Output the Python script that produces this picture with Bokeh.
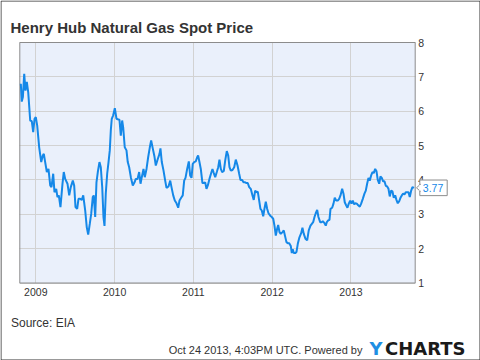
from bokeh.plotting import figure
from bokeh.models import Range1d, FixedTicker, Label, BoxAnnotation, PolyAnnotation
from bokeh.embed import file_html
from bokeh.resources import INLINE

# ---- data (weekly Henry Hub spot price) ----
year_frac = [
    2008.810, 2008.822, 2008.836, 2008.853, 2008.869, 2008.886, 2008.904, 2008.929, 2008.949, 2008.967,
    2008.984, 2009.000, 2009.018, 2009.043, 2009.069, 2009.089, 2009.102, 2009.119, 2009.140, 2009.161,
    2009.183, 2009.199, 2009.221, 2009.237, 2009.259, 2009.275, 2009.292, 2009.313, 2009.339, 2009.355,
    2009.373, 2009.402, 2009.424, 2009.444, 2009.470, 2009.487, 2009.504, 2009.525, 2009.542, 2009.563,
    2009.584, 2009.602, 2009.627, 2009.647, 2009.665,
    2009.685, 2009.703, 2009.723, 2009.736, 2009.754, 2009.770, 2009.787, 2009.808, 2009.825, 2009.843,
    2009.859, 2009.872, 2009.888, 2009.906, 2009.923, 2009.939, 2009.952, 2009.964, 2009.982, 2010.003,
    2010.024, 2010.049, 2010.062, 2010.079, 2010.096, 2010.109, 2010.129, 2010.151, 2010.167, 2010.185,
    2010.206, 2010.231, 2010.253, 2010.269, 2010.291, 2010.312, 2010.329, 2010.345, 2010.367, 2010.383,
    2010.405, 2010.426, 2010.447, 2010.464, 2010.485, 2010.506, 2010.523,
    2010.548, 2010.570, 2010.582, 2010.599, 2010.621, 2010.642, 2010.659, 2010.684, 2010.706, 2010.722,
    2010.744, 2010.764, 2010.786, 2010.807, 2010.824, 2010.845, 2010.865, 2010.883, 2010.900, 2010.921,
    2010.942, 2010.959, 2010.976, 2010.992, 2011.010, 2011.030, 2011.048, 2011.060, 2011.077, 2011.094,
    2011.115, 2011.132, 2011.150, 2011.166, 2011.183, 2011.204, 2011.226, 2011.242, 2011.259, 2011.277,
    2011.297, 2011.315, 2011.331, 2011.348, 2011.365,
    2011.386, 2011.404, 2011.424, 2011.442, 2011.458, 2011.475, 2011.496, 2011.518, 2011.538, 2011.560,
    2011.581, 2011.598, 2011.619, 2011.636, 2011.657, 2011.674, 2011.690, 2011.708, 2011.728, 2011.750,
    2011.766, 2011.784, 2011.804, 2011.817, 2011.835, 2011.851, 2011.868, 2011.886, 2011.902, 2011.919,
    2011.936, 2011.953, 2011.975, 2011.995, 2012.013, 2012.029, 2012.046, 2012.063, 2012.076, 2012.093,
    2012.109, 2012.131, 2012.147, 2012.165, 2012.181, 2012.198, 2012.216, 2012.236, 2012.249,
    2012.261, 2012.274, 2012.292, 2012.308, 2012.325, 2012.346, 2012.368, 2012.384, 2012.401, 2012.422,
    2012.444, 2012.464, 2012.486, 2012.503, 2012.520, 2012.537, 2012.553, 2012.571, 2012.587, 2012.609,
    2012.626, 2012.642, 2012.664, 2012.680, 2012.693, 2012.711, 2012.727, 2012.740, 2012.761, 2012.778,
    2012.794, 2012.812, 2012.832, 2012.850, 2012.867, 2012.888, 2012.905, 2012.921, 2012.939, 2012.955,
    2012.972, 2012.990, 2013.006, 2013.023, 2013.041, 2013.057, 2013.074, 2013.092, 2013.112,
    2013.129, 2013.150, 2013.171, 2013.188, 2013.205, 2013.222, 2013.238, 2013.256, 2013.273, 2013.289,
    2013.307, 2013.324, 2013.340, 2013.358, 2013.374, 2013.391, 2013.408, 2013.425, 2013.442, 2013.459,
    2013.476, 2013.492, 2013.510, 2013.526, 2013.543, 2013.561, 2013.577, 2013.594, 2013.612, 2013.628,
    2013.645, 2013.662, 2013.679, 2013.695, 2013.713, 2013.730, 2013.746, 2013.764, 2013.780, 2013.800,
]
price = [
    6.80, 6.28, 6.41, 7.09, 6.60, 6.85, 6.55, 5.73, 5.71, 5.39,
    5.78, 5.83, 5.58, 4.95, 4.52, 4.71, 4.76, 4.52, 4.23, 4.32,
    3.84, 3.79, 4.18, 3.64, 3.74, 3.50, 3.55, 3.21, 3.89, 4.23,
    4.03, 3.89, 3.55, 3.79, 3.98, 3.84, 3.21, 3.16, 3.45, 3.45,
    3.42, 3.55, 3.11, 2.62, 2.41,
    2.72, 3.01, 3.50, 3.55, 2.92, 3.93, 4.23, 4.52, 4.37, 3.79,
    2.92, 2.66, 3.60, 4.18, 4.52, 4.86, 5.44, 5.78, 5.88, 6.09,
    5.78, 5.76, 5.75, 5.29, 5.73, 5.53, 4.95, 4.86, 4.52, 4.37,
    4.08, 3.84, 3.93, 4.03, 4.03, 4.23, 3.89, 4.08, 4.32, 4.08,
    4.32, 4.66, 4.95, 5.15, 4.91, 4.68, 4.42,
    4.61, 4.76, 4.92, 4.52, 4.27, 3.98, 3.77, 3.81, 3.98, 3.79,
    3.55, 3.40, 3.32, 3.19, 3.40, 3.48, 3.55, 3.98, 4.06, 4.32,
    4.54, 4.13, 4.06, 4.47, 4.52, 4.54, 4.66, 4.71, 4.52, 4.32,
    3.91, 3.91, 3.93, 3.74, 3.84, 4.03, 4.20, 4.32, 4.20, 4.08,
    4.23, 4.37, 4.59, 4.32, 4.23,
    4.26, 4.57, 4.84, 4.71, 4.37, 4.27, 4.29, 4.37, 4.59, 4.42,
    4.18, 4.00, 4.00, 3.93, 3.93, 3.91, 3.91, 3.79, 3.74, 3.55,
    3.42, 3.69, 3.64, 3.66, 3.40, 3.16, 3.11, 2.94, 3.16, 3.37,
    3.16, 3.03, 2.96, 2.92, 2.87, 2.67, 2.38, 2.58, 2.69, 2.48,
    2.43, 2.48, 2.53, 2.35, 2.19, 2.16, 2.16, 2.08, 1.87,
    1.98, 1.87, 1.87, 1.90, 2.14, 2.33, 2.45, 2.61, 2.43, 2.29,
    2.24, 2.53, 2.67, 2.72, 2.77, 2.92, 3.03, 3.13, 2.92, 2.77,
    2.77, 2.80, 2.74, 2.67, 2.77, 2.82, 2.84, 3.16, 3.19, 3.31,
    3.48, 3.40, 3.40, 3.45, 3.55, 3.74, 3.60, 3.35, 3.26, 3.19,
    3.31, 3.40, 3.31, 3.40, 3.29, 3.32, 3.31, 3.26, 3.22,
    3.31, 3.45, 3.60, 3.69, 3.89, 4.06, 3.98, 4.13, 4.23, 4.20,
    4.32, 4.25, 4.00, 3.89, 4.10, 4.06, 3.96, 3.96, 3.83, 3.81,
    3.74, 3.52, 3.69, 3.67, 3.48, 3.55, 3.42, 3.32, 3.38, 3.48,
    3.55, 3.60, 3.58, 3.64, 3.64, 3.64, 3.50, 3.69, 3.79, 3.77,
]
year_ticks = [2009, 2010, 2011, 2012, 2013]
price_ticks = [1, 2, 3, 4, 5, 6, 7, 8]
x_lo, x_hi = 2008.797, 2013.815      # visible time span of the chart area
y_lo, y_hi = 1, 8                    # visible price span

title_text = "Henry Hub Natural Gas Spot Price"
source_text = "Source: EIA"
stamp_text = "Oct 24 2013, 4:03PM UTC.  Powered by"

FONT = "Liberation Sans"
LINE_BLUE = "#1588e8"
TEXT = "#333333"
EDGE = "#8c8c8c"

# ---- layout: the frame fills the whole canvas, the chart area sits inside it ----
W, H = 480, 360
AREA_L, AREA_R = 19.3, 414.7
AREA_T, AREA_B = 42.0, 282.5
kx = (x_hi - x_lo) / (AREA_R - AREA_L)
ky = (y_hi - y_lo) / (AREA_B - AREA_T)

p = figure(width=W, height=H, output_backend="svg", toolbar_location=None,
           x_range=Range1d(x_lo - AREA_L * kx, x_hi + (W - AREA_R) * kx),
           y_range=Range1d(y_lo - (H - AREA_B) * ky, y_hi + AREA_T * ky),
           y_axis_location="right",
           min_border_left=0, min_border_right=0, min_border_top=0, min_border_bottom=0)

p.background_fill_color = "white"
p.border_fill_color = "white"
p.outline_line_color = None

# chart area fill (below the grid) and outline (above the grid)
area_fill = BoxAnnotation(left=x_lo, right=x_hi, bottom=y_lo, top=y_hi,
                          fill_color="#eaf0fb", fill_alpha=1.0, line_alpha=0,
                          level="underlay")
area_line = BoxAnnotation(left=x_lo, right=x_hi, bottom=y_lo, top=y_hi,
                          fill_alpha=0, line_color=EDGE, line_alpha=1.0, line_width=1,
                          level="underlay")
p.xgrid.ticker = FixedTicker(ticks=year_ticks)
p.ygrid.ticker = FixedTicker(ticks=price_ticks)
p.grid.grid_line_color = "#d2d2d2"
p.grid.grid_line_width = 1
gx, gy = p.xgrid[0], p.ygrid[0]
if "cross_bounds" in gx.properties():
    gx.cross_bounds = (y_lo, y_hi)
    gy.cross_bounds = (x_lo, x_hi)
    p.center = [area_fill] + list(p.center) + [area_line]
else:
    p.grid.visible = False
    p.center = [area_fill] + list(p.center) + [area_line]
    p.segment(x0=year_ticks, y0=y_lo, x1=year_ticks, y1=y_hi,
              line_color="#d2d2d2", line_width=1)
    p.segment(x0=x_lo, y0=price_ticks, x1=x_hi, y1=price_ticks,
              line_color="#d2d2d2", line_width=1)

for ax in (p.xaxis[0], p.yaxis[0]):
    ax.axis_line_color = None
    ax.major_tick_line_color = None
    ax.minor_tick_line_color = None
    ax.major_tick_in = 0
    ax.major_tick_out = 0
    ax.minor_tick_in = 0
    ax.minor_tick_out = 0
    ax.major_label_text_font = FONT
    ax.major_label_text_font_size = "10.5px"
    ax.major_label_text_color = TEXT

p.xaxis.ticker = FixedTicker(ticks=year_ticks)
p.xaxis.major_label_overrides = {t: str(t) for t in year_ticks}
p.xaxis.major_label_standoff = 5
p.xaxis.fixed_location = y_lo
p.yaxis.ticker = FixedTicker(ticks=price_ticks)
p.yaxis.major_label_overrides = {t: str(t) for t in price_ticks}
p.yaxis.major_label_standoff = 3
p.yaxis.fixed_location = x_hi

p.line(year_frac, price, line_color=LINE_BLUE, line_width=2)

# ---- last value callout ----
last = price[-1]
half_h = 7.8 * ky
tri = 3.5 * ky
box_l, box_r = 419.3, 446.7
p.add_layout(BoxAnnotation(left=box_l, right=box_r, left_units="screen", right_units="screen",
                           bottom=last - half_h, top=last + half_h,
                           fill_color="white", fill_alpha=1.0,
                           line_color=EDGE, line_alpha=1.0, line_width=1, level="overlay"))
p.add_layout(PolyAnnotation(xs=[box_l + 0.5, box_l - 3.3, box_l + 0.5],
                            ys=[last + tri, last, last - tri],
                            xs_units="screen", ys_units="data",
                            fill_color="white", fill_alpha=1.0,
                            line_color=EDGE, line_alpha=1.0, line_width=1, level="overlay"))
p.add_layout(BoxAnnotation(left=box_l - 0.5, right=box_l + 1.5, left_units="screen", right_units="screen",
                           bottom=last - tri + 0.6 * ky, top=last + tri - 0.6 * ky,
                           fill_color="white", fill_alpha=1.0, line_alpha=0, level="overlay"))
p.add_layout(Label(x=box_l + 3.0, y=last, x_units="screen", y_units="data",
                   text=f"{last:.2f}", text_font=FONT, text_font_size="10.5px",
                   text_color=LINE_BLUE, text_baseline="middle", level="overlay"))

# ---- texts around the chart (screen px from the canvas' left / bottom) ----
p.add_layout(Label(x=10, y=H - 26.7, x_units="screen", y_units="screen", text=title_text,
                   text_font=FONT, text_font_style="bold", text_font_size="15px",
                   text_color=TEXT, text_baseline="alphabetic"))
p.add_layout(Label(x=10.5, y=H - 322.0, x_units="screen", y_units="screen", text=source_text,
                   text_font=FONT, text_font_size="12px",
                   text_color=TEXT, text_baseline="alphabetic"))
p.add_layout(Label(x=365, y=H - 349.3, x_units="screen", y_units="screen", text=stamp_text,
                   text_font=FONT, text_font_size="11px", text_align="right",
                   text_color=TEXT, text_baseline="alphabetic"))
p.add_layout(Label(x=369, y=H - 348.0, x_units="screen", y_units="screen", text="Y",
                   text_font="DejaVu Sans", text_font_style="bold", text_font_size="18px",
                   text_color="#1e8fe3", text_baseline="alphabetic"))
p.add_layout(Label(x=384.5, y=H - 348.0, x_units="screen", y_units="screen", text="CHARTS",
                   text_font="DejaVu Sans", text_font_style="bold", text_font_size="18px",
                   text_color="#1a1a1a", text_baseline="alphabetic"))

# outer border of the whole chart
p.add_layout(BoxAnnotation(left=0.5, right=W - 0.5, bottom=0.5, top=H - 0.5,
                           left_units="screen", right_units="screen",
                           bottom_units="screen", top_units="screen",
                           fill_alpha=0, line_color="#333333", line_alpha=1.0, line_width=1,
                           level="overlay"))

open("out.html", "w").write(file_html(p, INLINE))
